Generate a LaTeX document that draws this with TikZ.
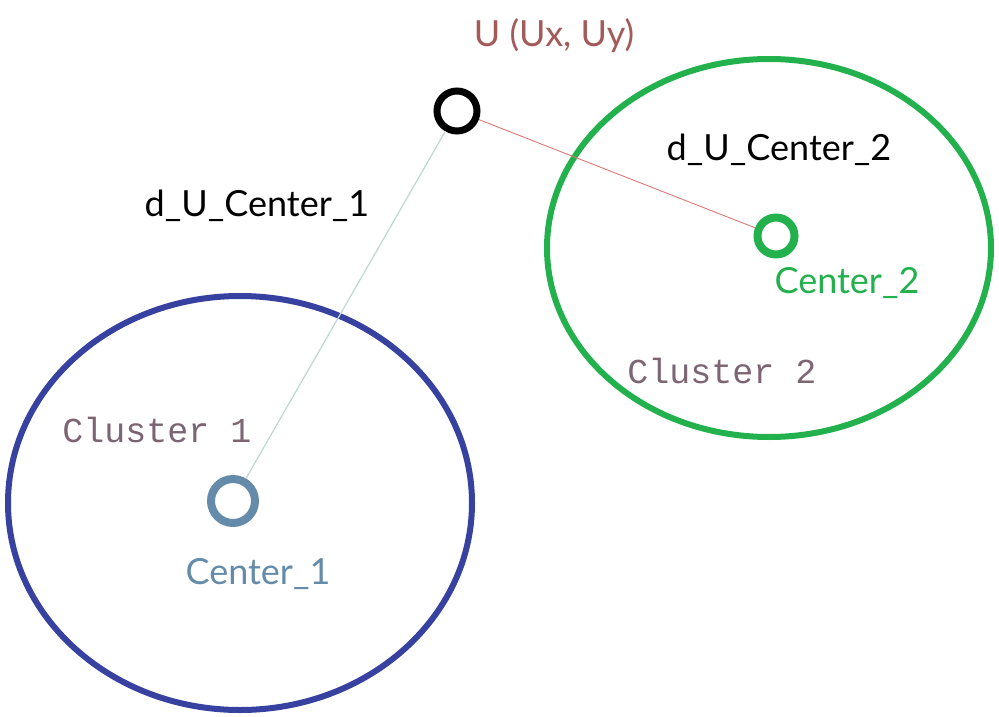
\documentclass[tikz,border=0pt]{standalone}
\usepackage{fontspec}
\setmainfont{Lato}
\setmonofont{Liberation Mono}
\begin{document}
\begin{tikzpicture}[x=1pt,y=-1pt,
  hand/.style={font=\fontsize{36}{40}\selectfont, inner sep=0pt, anchor=center},
  mono/.style={font=\ttfamily\fontsize{35}{40}\selectfont, text=clustertext, inner sep=0pt},
  ring/.style={circle, draw, inner sep=0pt, minimum size=#1}]
\definecolor{bluec}{RGB}{55,65,160}
\definecolor{greenc}{RGB}{34,177,76}
\definecolor{steel}{RGB}{100,140,170}
\definecolor{clustertext}{RGB}{125,100,115}
\definecolor{ured}{RGB}{165,90,90}
\definecolor{line1}{RGB}{190,215,208}
\definecolor{line2}{RGB}{225,120,120}
\useasboundingbox (0,0) rectangle (999,717);
\fill[white] (0,0) rectangle (999,717);
% clusters
\draw[bluec, line width=6pt] (240,503) ellipse [x radius=232, y radius=207];
\draw[greenc, line width=6pt] (769,248) ellipse [x radius=222, y radius=189];
% points
\node[ring=40pt, line width=7pt, draw=black] (u) at (457,111) {};
\node[ring=37pt, line width=8pt, draw=greenc] (c2) at (776,236) {};
\node[ring=44pt, line width=8pt, draw=steel] (c1) at (233,501) {};
% connectors
\draw[line1, line width=1.2pt] (u) -- (c1);
\draw[line2, line width=0.9pt] (u) -- (c2);
% labels
\node[hand, text=ured] (ul) at (554,36) {U (Ux, Uy)};
\node[hand, text=black] (d2) at (779,150) {d\_U\_Center\_2};
\node[hand, text=black] (d1) at (257,206) {d\_U\_Center\_1};
\node[hand, text=greenc] (c2l) at (847,283) {Center\_2};
\node[hand, text=steel] (c1l) at (258,574) {Center\_1};
\node[mono] (k2) at (722,371) {Cluster 2};
\node[mono] (k1) at (157,430) {Cluster 1};
\end{tikzpicture}
\end{document}
